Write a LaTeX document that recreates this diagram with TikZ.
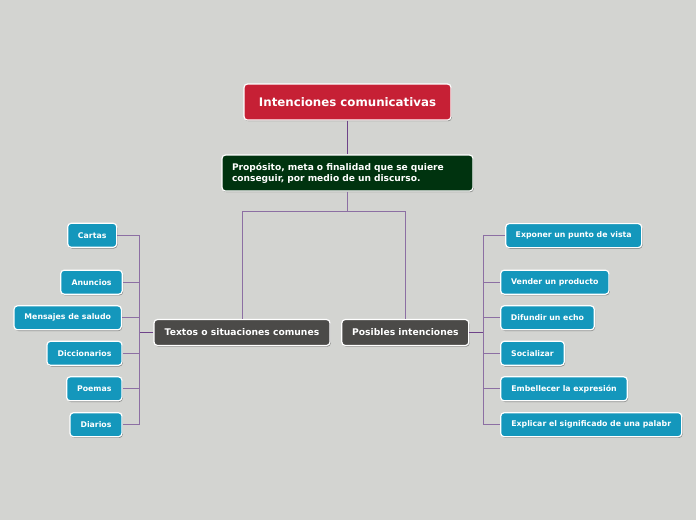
\documentclass[tikz,border=0pt]{standalone}
\usepackage{fontspec}
\setmainfont{DejaVu Sans}
\usetikzlibrary{shadows}
\definecolor{bg}{HTML}{D3D4D1}
\definecolor{titlered}{HTML}{C62035}
\definecolor{darkgreen}{HTML}{00330F}
\definecolor{midgray}{HTML}{4B4A48}
\definecolor{leafblue}{HTML}{1497BC}
\definecolor{linepurple}{HTML}{6E4389}
\definecolor{branchpurple}{HTML}{8C6FA3}
\tikzset{
  box/.style={draw=white, line width=1.2pt, rounded corners=3.5pt, text=white,
    font=\bfseries, inner sep=0pt, align=center,
    drop shadow={shadow xshift=0.8pt, shadow yshift=-1.2pt, opacity=0.35, fill=black}},
  leaf/.style={box, fill=leafblue, minimum height=24pt, font=\bfseries\fontsize{7.8}{9}\selectfont},
  mid/.style={box, fill=midgray, minimum height=26pt, font=\bfseries\fontsize{9.2}{11}\selectfont},
  conn/.style={draw=branchpurple, line width=0.9pt},
}
\begin{document}
\begin{tikzpicture}[x=1pt,y=-1pt]
\fill[bg] (0,0) rectangle (696,520);
\useasboundingbox (0,0) rectangle (696,520);

\node[box, fill=titlered, minimum width=207pt, minimum height=36pt,
  font=\bfseries\fontsize{11.8}{13}\selectfont] (t) at (347.5,102) {Intenciones comunicativas};
\node[box, fill=darkgreen, text width=231pt, inner xsep=10pt, minimum height=36pt, align=left,
  font=\bfseries\fontsize{9.1}{11}\selectfont] (p) at (347.5,173) {Propósito, meta o finalidad que se quiere\\conseguir, por medio de un discurso.};

\node[mid, minimum width=176pt] (tx) at (242,332.5) {Textos o situaciones comunes};
\node[mid, minimum width=127pt] (ps) at (405.3,332.5) {Posibles intenciones};

% left leaves
\node[leaf, minimum width=49pt] (l1) at (92.2,235.3) {Cartas};
\node[leaf, minimum width=61.6pt] (l2) at (91.5,282.2) {Anuncios};
\node[leaf, minimum width=107.3pt] (l3) at (67.7,317.8) {Mensajes de saludo};
\node[leaf, minimum width=75pt] (l4) at (84.5,353.3) {Diccionarios};
\node[leaf, minimum width=55.3pt] (l5) at (94.3,388.8) {Poemas};
\node[leaf, minimum width=52pt] (l6) at (96,424.7) {Diarios};

% right leaves
\node[leaf, minimum width=136pt] (r1) at (573.7,235.6) {Exponer un punto de vista};
\node[leaf, minimum width=108.3pt] (r2) at (554.8,282.2) {Vender un producto};
\node[leaf, minimum width=93.6pt] (r3) at (547.5,317.8) {Difundir un echo};
\node[leaf, minimum width=63.6pt] (r4) at (532.5,353.3) {Socializar};
\node[leaf, minimum width=126.6pt] (r5) at (564,388.8) {Embellecer la expresión};
\node[leaf, minimum width=181pt] (r6) at (591.2,424.7) {Explicar el significado de una palabr};

% connectors
\draw[draw=linepurple, line width=1.6pt] (t.south) -- (p.north);
\coordinate (j) at (347.5,211);
\draw[conn] (p.south) -- (j);
\draw[conn] (j) -| (tx.north);
\draw[conn] (j) -| (ps.north);

\coordinate (lb) at (139.3,332.5);
\draw[conn, line width=1.3pt, draw=linepurple] (tx.west) -- (lb);
\foreach \n in {l1,l2,l3,l4,l5,l6} \draw[conn] (lb) |- (\n.east);

\coordinate (rb) at (483.3,332.5);
\draw[conn, line width=1.3pt, draw=linepurple] (ps.east) -- (rb);
\foreach \n in {r1,r2,r3,r4,r5,r6} \draw[conn] (rb) |- (\n.west);
\end{tikzpicture}
\end{document}
